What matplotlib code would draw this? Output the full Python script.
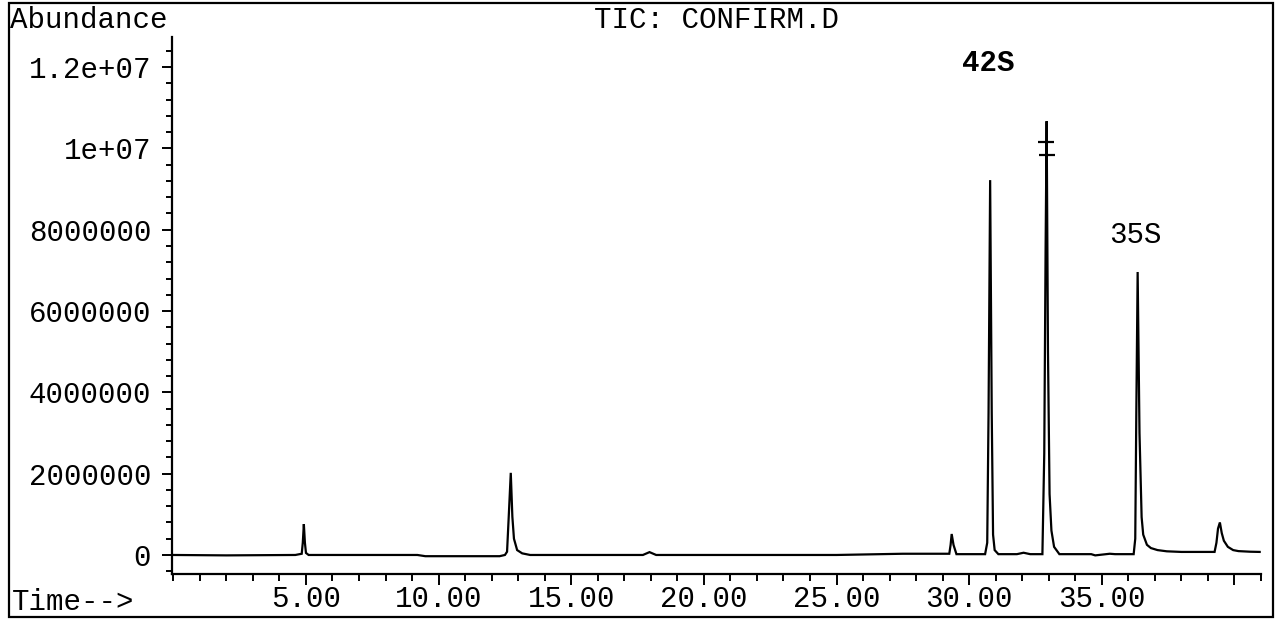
import matplotlib
matplotlib.use("Agg")
import matplotlib.pyplot as plt
from matplotlib.patches import Rectangle
from matplotlib.ticker import MultipleLocator, FixedLocator

# retention time (min) and abundance
time = [0.0, 2.0, 4.6, 4.84, 4.88, 4.92, 4.96, 5.0, 5.1, 5.4, 9.2, 9.5, 12.3, 12.5, 12.58,
        12.64, 12.72, 12.78, 12.84, 12.96, 13.15, 13.45, 17.7, 17.95, 18.2, 25.0, 27.5,
        29.25, 29.3, 29.34, 29.41, 29.52, 30.6, 30.68, 30.73, 30.79, 30.85, 30.9, 30.96,
        31.1, 31.8, 32.05, 32.3, 32.76, 32.83, 32.88, 32.92, 32.97, 33.03, 33.1, 33.2,
        33.4, 34.6, 34.75, 35.3, 35.5, 36.2, 36.26, 36.3, 36.35, 36.42, 36.5, 36.56, 36.7,
        36.85, 37.1, 37.45, 38.0, 39.25, 39.32, 39.38, 39.45, 39.52, 39.6, 39.75, 39.95,
        40.15, 40.6, 40.95]
abundance = [0, -10000, 0, 30000, 300000, 760000, 300000, 50000, 0, 0, 0, -30000, -30000,
             0, 80000, 900000, 2020000, 940000, 400000, 120000, 40000, 0, 0, 70000, 0,
             0, 30000, 30000, 250000, 516000, 246000, 20000, 20000, 300000, 3500000,
             9220000, 3500000, 500000, 120000, 20000, 20000, 55000, 20000, 20000,
             2500000, 7500000, 10670000, 5000000, 1500000, 600000, 200000, 20000,
             20000, -10000, 30000, 20000, 20000, 400000, 3500000, 6960000, 3000000,
             930000, 500000, 250000, 170000, 120000, 90000, 75000, 75000, 300000,
             650000, 800000, 540000, 350000, 200000, 120000, 95000, 80000, 75000]

# integration tick marks on the 42S peak
mark_time = [32.9, 32.92]
mark_vals = [10160000, 9840000]

labels = ["42S", "35S"]
label_time = [30.72, 36.26]
label_vals = [12100000, 7880000]

plt.rcParams['font.family'] = ['Liberation Mono', 'DejaVu Sans Mono']

fig = plt.figure(figsize=(12.77, 6.2), dpi=100)
ax = fig.add_axes([172 / 1277, 1 - 574 / 620, (1261 - 172) / 1277, (574 - 37) / 620])

ax.plot(time, abundance, color='black', lw=1.6, solid_joinstyle='miter')
ax.plot(mark_time, mark_vals, ls='none', marker='_', ms=11, mew=1.6, color='black')

ax.set_xlim(-0.05, 41.0)
ax.set_ylim(-468000, 12740000)

for sp in ['top', 'right']:
    ax.spines[sp].set_visible(False)
for sp in ['left', 'bottom']:
    ax.spines[sp].set_linewidth(1.6)

ax.xaxis.set_major_locator(FixedLocator([5, 10, 15, 20, 25, 30, 35, 40]))
ax.xaxis.set_minor_locator(MultipleLocator(1))
ax.set_xticklabels(["5.00", "10.00", "15.00", "20.00", "25.00", "30.00", "35.00", ""])
ax.yaxis.set_minor_locator(MultipleLocator(400000))
ax.set_yticks([0, 2000000, 4000000, 6000000, 8000000, 10000000, 12000000])
ax.set_yticklabels(["0", "2000000", "4000000", "6000000", "8000000", "1e+07", "1.2e+07"])

ax.tick_params(axis='both', which='major', direction='out', width=1.4, labelsize=21,
               colors='black')
ax.tick_params(axis='x', which='major', length=8, pad=0)
ax.tick_params(axis='y', which='major', length=7, pad=8)
ax.tick_params(axis='x', which='minor', length=5, width=1.4)
ax.tick_params(axis='y', which='minor', length=4, width=1.4)

for t, v, s in zip(label_time, label_vals, labels):
    ax.text(t, v, s, fontsize=21, ha='center', va='center',
            fontweight='bold' if s == "42S" else 'normal')

fig.text(716 / 1277, 1 - 20 / 620, "TIC: CONFIRM.D", fontsize=21, ha='center', va='center')
fig.text(10 / 1277, 1 - 20 / 620, "Abundance", fontsize=21, ha='left', va='center')
fig.text(12 / 1277, 1 - 602 / 620, "Time-->", fontsize=21, ha='left', va='center')

# page frame from the scan
fig.add_artist(Rectangle((9 / 1277, 1 - 617 / 620), (1273 - 9) / 1277, (617 - 3) / 620,
                         transform=fig.transFigure, fill=False, lw=1.6, ec='black'))

fig.savefig("out.png", dpi=100)
